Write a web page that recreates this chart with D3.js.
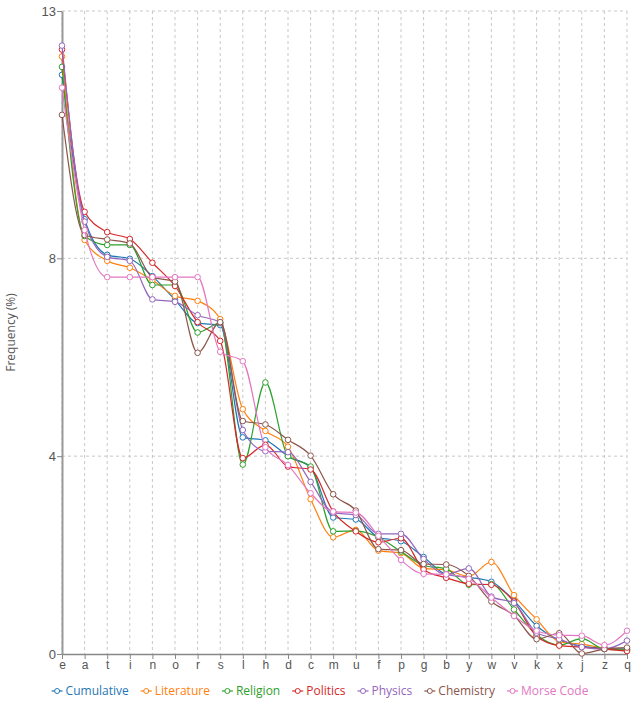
<!DOCTYPE html>
<html>
<head>
<meta charset="utf-8">
<script src="https://cdn.jsdelivr.net/npm/d3@7"></script>
<style>
  html, body { margin: 0; padding: 0; background: #fff; }
  svg { display: block; font-family: "Open Sans", "Noto Sans", sans-serif; }
</style>
</head>
<body>
<svg id="chart" width="640" height="704"></svg>
<script>
const letters = ["e","a","t","i","n","o","r","s","l","h","d","c","m","u","f","p","g","b","y","w","v","k","x","j","z","q"];
const seriesNames = ["Cumulative","Literature","Religion","Politics","Physics","Chemistry","Morse Code"];
const yTickValues = [0, 4, 8, 13];

const cumulative = [11.71,8.79,8.07,7.99,7.64,7.16,6.69,6.65,4.38,4.32,4.00,3.77,2.76,2.72,2.36,2.28,1.96,1.61,1.55,1.46,1.08,0.57,0.28,0.16,0.12,0.10];
const literature = [12.08,8.37,7.95,7.81,7.56,7.24,7.14,6.77,4.95,4.51,4.19,3.13,2.36,2.51,2.09,2.04,1.73,1.70,1.57,1.86,1.19,0.70,0.25,0.20,0.12,0.08];
const religion   = [11.87,8.45,8.27,8.27,7.46,7.46,6.50,6.69,3.83,5.49,4.00,3.79,2.48,2.49,2.36,2.07,1.79,1.72,1.40,1.41,0.90,0.39,0.18,0.31,0.10,0.08];
const politics   = [12.22,8.94,8.53,8.39,7.91,7.44,6.71,6.33,3.96,4.23,3.79,3.73,2.88,2.48,2.26,2.34,1.71,1.54,1.42,1.40,1.06,0.36,0.17,0.14,0.10,0.06];
const physics    = [12.30,8.74,8.03,7.95,7.17,7.12,6.85,6.70,4.53,4.10,4.08,3.48,2.86,2.81,2.43,2.43,1.92,1.61,1.73,1.16,1.03,0.43,0.30,0.14,0.10,0.27];
const chemistry  = [10.90,8.47,8.38,8.30,7.62,7.53,6.09,6.71,4.71,4.64,4.33,4.01,3.23,2.90,2.12,2.10,1.82,1.81,1.58,1.06,0.78,0.30,0.42,0.01,0.10,0.13];
const morse      = [11.45,8.57,7.62,7.62,7.62,7.62,7.62,6.11,5.92,4.18,3.82,3.25,2.88,2.86,2.39,1.90,1.62,1.61,1.52,1.14,0.77,0.47,0.38,0.37,0.18,0.47];

const seriesValues = [cumulative, literature, religion, politics, physics, chemistry, morse];
const colors = ["#1f77b4","#ff7f0e","#2ca02c","#d62728","#9467bd","#8c564b","#e377c2"];

const W = 640, H = 704;
const margin = {top: 11, right: 13, bottom: 50, left: 62};
const svg = d3.select("#chart");
const g = svg.append("g").attr("transform", `translate(${margin.left},${margin.top})`);
const iw = W - margin.left - margin.right;
const ih = H - margin.top - margin.bottom;

const x = d3.scalePoint().domain(letters).range([0, iw]).padding(0);
const y = d3.scaleLinear().domain([0, 13]).range([ih, 0]);

// grid
g.append("g").selectAll("line.v").data(letters).join("line")
  .attr("x1", d => x(d)).attr("x2", d => x(d))
  .attr("y1", 0).attr("y2", ih)
  .attr("stroke", "#c8c8c8").attr("stroke-dasharray", "3,3").attr("stroke-width", 1);
g.append("g").selectAll("line.h").data(yTickValues.filter(v => v > 0)).join("line")
  .attr("x1", 0).attr("x2", iw)
  .attr("y1", d => y(d)).attr("y2", d => y(d))
  .attr("stroke", "#c8c8c8").attr("stroke-dasharray", "3,3").attr("stroke-width", 1);

// axes
const xAxis = g.append("g").attr("transform", `translate(0,${ih})`)
  .call(d3.axisBottom(x).tickSize(5).tickSizeOuter(0));
xAxis.select(".domain").attr("stroke", "#888").attr("stroke-width", 1.5);
xAxis.selectAll(".tick line").attr("stroke", "#888");
xAxis.selectAll(".tick text").attr("fill", "#555").attr("font-size", 12).attr("dy", "0.6em");

const yAxis = g.append("g")
  .call(d3.axisLeft(y).tickValues(yTickValues).tickSize(5).tickSizeOuter(0).tickFormat(d3.format("d")));
yAxis.select(".domain").attr("stroke", "#999").attr("stroke-width", 2);
yAxis.selectAll(".tick line").attr("stroke", "#888");
yAxis.selectAll(".tick text").attr("fill", "#555").attr("font-size", 13).attr("x", -6);

svg.append("text")
  .attr("transform", `translate(15,${margin.top + ih / 2}) rotate(-90)`)
  .attr("text-anchor", "middle")
  .attr("font-size", 12)
  .attr("fill", "#555")
  .text("Frequency (%)");

// lines
const line = d3.line()
  .x((d, i) => x(letters[i]))
  .y(d => y(d))
  .curve(d3.curveMonotoneX);

seriesValues.forEach((vals, si) => {
  const sg = g.append("g");
  sg.append("path").datum(vals)
    .attr("d", line)
    .attr("fill", "none")
    .attr("stroke", colors[si])
    .attr("stroke-width", 1.2);
  sg.selectAll("circle").data(vals).join("circle")
    .attr("cx", (d, i) => x(letters[i]))
    .attr("cy", d => y(d))
    .attr("r", 2.8)
    .attr("fill", "#fff")
    .attr("stroke", colors[si])
    .attr("stroke-width", 1);
});

// legend
const legend = svg.append("g").attr("transform", `translate(0,691)`);
const items = [];
seriesNames.forEach((name, i) => {
  const it = legend.append("g");
  it.append("line").attr("x1", 0).attr("x2", 11).attr("y1", 0).attr("y2", 0)
    .attr("stroke", colors[i]).attr("stroke-width", 1.2);
  it.append("circle").attr("cx", 5.5).attr("cy", 0).attr("r", 2.5)
    .attr("fill", "#fff").attr("stroke", colors[i]);
  const t = it.append("text").attr("x", 14).attr("y", 0).attr("dy", "0.35em")
    .attr("font-size", 12).attr("fill", colors[i]).text(name);
  const w = 14 + t.node().getComputedTextLength();
  items.push({it, w});
});
const gap = 12;
const total = d3.sum(items, d => d.w) + gap * (items.length - 1);
let pos = (W - total) / 2;
items.forEach(d => { d.it.attr("transform", `translate(${pos},0)`); pos += d.w + gap; });
</script>
</body>
</html>
